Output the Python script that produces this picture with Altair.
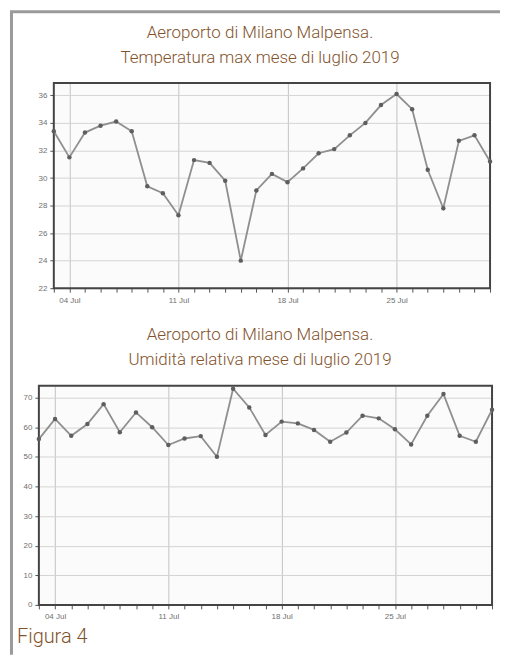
import altair as alt
import pandas as pd

# ---- data -------------------------------------------------------------
days = list(range(3, 32))
dates = [f"2019-07-{d:02d}" for d in days]
label_days = [4, 11, 18, 25]

temp_max = [33.4, 31.5, 33.3, 33.8, 34.1, 33.4, 29.4, 28.9, 27.3, 31.3,
            31.1, 29.8, 24.0, 29.1, 30.3, 29.7, 30.7, 31.8, 32.1, 33.1,
            34.0, 35.3, 36.1, 35.0, 30.6, 27.8, 32.7, 33.1, 31.2]
humidity = [56.0, 62.8, 57.1, 61.1, 67.8, 58.3, 65.0, 60.0, 54.0, 56.2,
            57.0, 50.0, 73.0, 66.7, 57.4, 61.9, 61.3, 59.1, 55.1, 58.2,
            63.9, 63.0, 59.3, 54.2, 63.9, 71.2, 57.1, 55.1, 65.9]

temp_ticks = [22, 24, 26, 28, 30, 32, 34, 36]
hum_ticks = [0, 10, 20, 30, 40, 50, 60, 70]

title_line1 = "Aeroporto di Milano Malpensa."
temp_title = "Temperatura max mese di luglio 2019"
hum_title = "Umidità relativa mese di luglio 2019"
caption = "Figura 4"

FONT = "Roboto"
BROWN = "#82532b"


def dt(d):
    return alt.DateTime(year=2019, month=7, date=d, utc=True)


week_test = "indexof([" + ",".join(str(d) for d in label_days) + "], utcdate(datum.value)) >= 0"


def panel(values, domain, yticks, x0, x1, height, title2, tx, ty1, ty2):
    df = pd.DataFrame({"date": dates, "v": values})
    x = alt.X(
        "date:T",
        scale=alt.Scale(type="utc", domain=[dt(days[0]), dt(days[-1])],
                        nice=False, range=[x0, x1]),
        axis=alt.Axis(
            title=None,
            values=[dt(d) for d in days],
            labelExpr=week_test + " ? utcFormat(datum.value, '%d %b') : ''",
            labelOverlap=False,
            gridColor={"condition": {"test": week_test, "value": "#a8a8a8"},
                       "value": "rgba(0,0,0,0)"},
            gridWidth=1,
            tickSize=4,
            tickColor="#555",
            labelFontSize=8,
            labelColor="#6f6f6f",
            labelPadding=4,
            domain=False,
        ),
    )
    y = alt.Y(
        "v:Q",
        scale=alt.Scale(domain=domain, nice=False, zero=False),
        axis=alt.Axis(
            title=None,
            values=yticks,
            grid=True,
            gridColor="#c4c4c4",
            gridWidth=1,
            tickSize=4,
            tickColor="#555",
            labelFontSize=8,
            labelColor="#6f6f6f",
            labelPadding=3,
            domain=False,
            offset=-x0,
        ),
    )
    base = alt.Chart(df).encode(x=x, y=y)
    frame = alt.Chart(one).mark_rect(
        fill="#f4f4f4", fillOpacity=0.35, stroke="#444", strokeWidth=2
    ).encode(x=alt.value(x0), x2=alt.value(x1), y=alt.value(0), y2=alt.value(height))
    line = base.mark_line(color="#8f8f8f", strokeWidth=1.8)
    pts = base.mark_circle(size=20, color="#5e5e5e", opacity=1)
    tdf = pd.DataFrame({"t1": [title_line1], "t2": [title2]})
    t1 = alt.Chart(tdf).mark_text(font=FONT, fontSize=17, fontWeight=300, color=BROWN,
                                  align="center", baseline="alphabetic").encode(
        text="t1:N", x=alt.value(tx), y=alt.value(ty1))
    t2 = alt.Chart(tdf).mark_text(font=FONT, fontSize=17, fontWeight=300, color=BROWN,
                                  align="center", baseline="alphabetic").encode(
        text="t2:N", x=alt.value(tx), y=alt.value(ty2))
    return [frame, line, pts, t1, t2]


one = pd.DataFrame({"k": [0]})

# outer figure frame (decoration)
frame_left = alt.Chart(one).mark_rule(color="#9a9a9a", strokeWidth=3).encode(
    x=alt.value(-27.5), y=alt.value(-71.5), y2=alt.value(574))
frame_top = alt.Chart(one).mark_rule(color="#9a9a9a", strokeWidth=3).encode(
    x=alt.value(-29), x2=alt.value(463), y=alt.value(-71.5))

no_view = alt.ViewBackground(fill="transparent", stroke="transparent")

top = alt.layer(
    *panel(temp_max, [22, 36.9], temp_ticks, 15, 453, 206, temp_title, 222, -45, -20),
    frame_left, frame_top,
).properties(width=453, height=206, view=no_view)

cap = alt.Chart(pd.DataFrame({"c": [caption]})).mark_text(
    font=FONT, fontSize=20, fontWeight=300, color=BROWN, align="left", baseline="alphabetic"
).encode(text="c:N", x=alt.value(-22), y=alt.value(258))

bottom = alt.layer(
    *panel(humidity, [0, 74], hum_ticks, 0, 455, 220, hum_title, 222, -46, -21),
    cap,
).properties(width=455, height=220, view=no_view)

chart = alt.vconcat(top, bottom, spacing=98, bounds="flush").properties(
    padding={"left": 0, "top": 0, "right": 0, "bottom": 0},
    background="white",
).configure_axis(labelFont="Liberation Sans")

chart.save("out.html", embed_options={"renderer": "svg", "actions": False})
